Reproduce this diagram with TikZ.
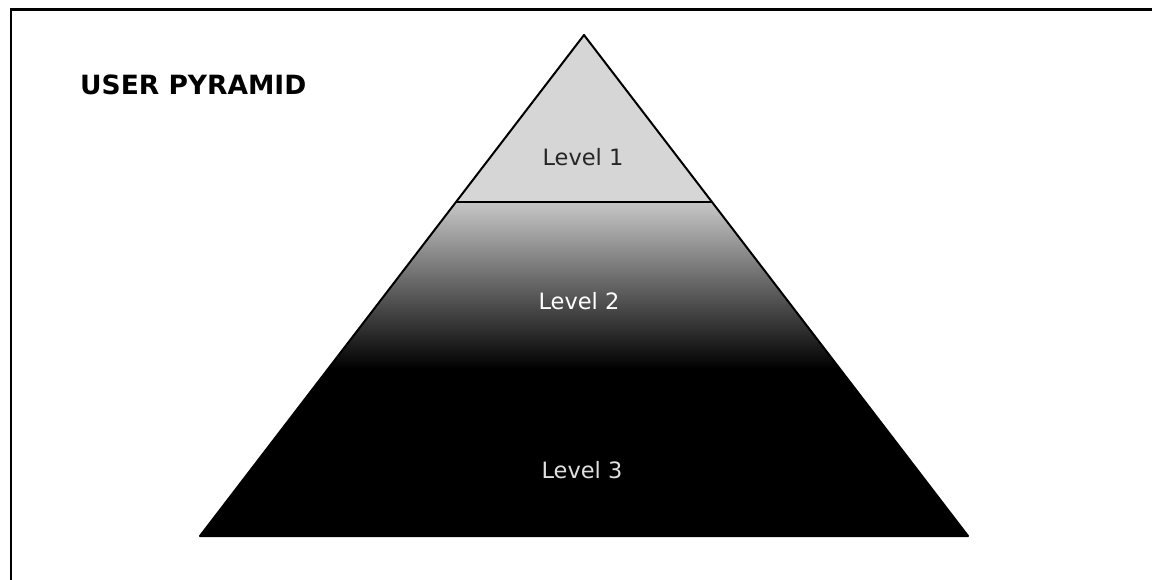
\documentclass[tikz,border=0pt]{standalone}
\usepackage{fontspec}
\setmainfont{DejaVu Sans}
\usetikzlibrary{calc}
\tikzset{
  framerule/.style={line width=2.6pt, black},
  lvllabel/.style={font=\fontsize{22.5}{26}\selectfont, inner sep=0pt},
  titlelabel/.style={font=\bfseries\fontsize{26.5}{30}\selectfont, inner sep=0pt, anchor=west},
  edgerule/.style={line width=2pt, black, line join=round},
  splitrule/.style={line width=1.5pt, black},
}
\begin{document}
\begin{tikzpicture}[x=1pt,y=-1pt]
\useasboundingbox (0,0) rectangle (1152,580);
\fill[white] (0,0) rectangle (1152,580);
% frame (top and left rules)
\coordinate (ftl) at (11,9.5);
\coordinate (ftr) at (1152,9.5);
\coordinate (fbl) at (11,580);
\draw[framerule] (ftr) -- (ftl) -- (fbl);
% pyramid geometry
\coordinate (apex) at (584,35);
\coordinate (bl) at (200,536);
\coordinate (br) at (968,536);
\coordinate (a1) at ($(apex)!1/3!(bl)$);
\coordinate (b1) at ($(apex)!1/3!(br)$);
\coordinate (a2) at ($(apex)!2/3!(bl)$);
\coordinate (b2) at ($(apex)!2/3!(br)$);
% level fills
\fill[black!16] (apex) -- (a1) -- (b1) -- cycle;
\shade[top color=black!22, middle color=black!62, bottom color=black] (a1) -- (a2) -- (b2) -- (b1) -- cycle;
\fill[black] (a2) -- (bl) -- (br) -- (b2) -- cycle;
% outlines
\draw[edgerule] (apex) -- (bl) -- (br) -- cycle;
\draw[splitrule] (a1) -- (b1);
% labels
\node[titlelabel] (title) at (80,85) {USER PYRAMID};
\node[lvllabel, text=black!85] (lone) at (583,157) {Level 1};
\node[lvllabel, text=white] (ltwo) at (579,301) {Level 2};
\node[lvllabel, text=black!12] (lthree) at (582,470) {Level 3};
\end{tikzpicture}
\end{document}
